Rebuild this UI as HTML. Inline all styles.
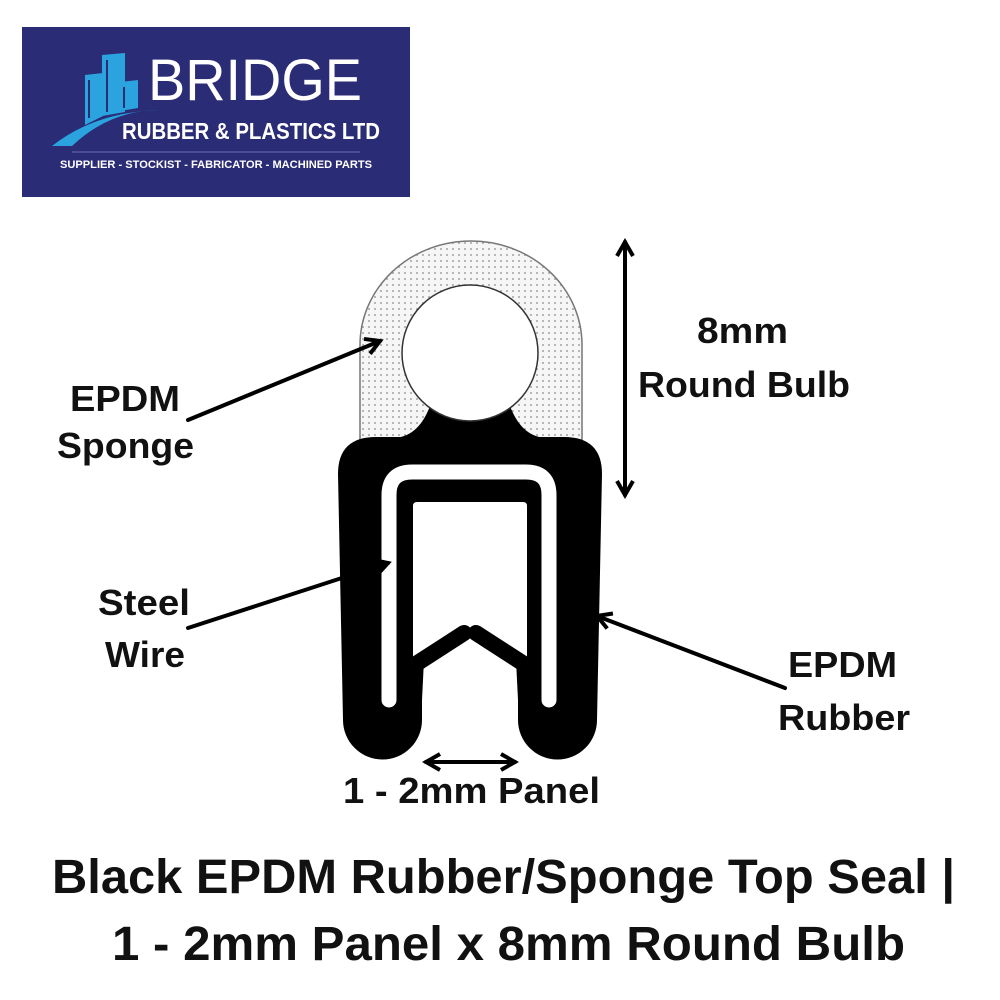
<!DOCTYPE html>
<html><head><meta charset="utf-8"><style>
html,body{margin:0;padding:0;background:#fff;width:1000px;height:1000px;overflow:hidden}
svg{display:block}
text{font-family:"Liberation Sans",sans-serif}
</style></head><body>
<svg width="1000" height="1000" viewBox="0 0 1000 1000" xmlns="http://www.w3.org/2000/svg">
<defs>
<pattern id="dots" width="6" height="6" patternUnits="userSpaceOnUse">
<rect width="6" height="6" fill="#f6f6f6"/>
<circle cx="3" cy="3" r="0.9" fill="#8a8a8a"/>
</pattern>
<marker id="ah" viewBox="0 0 10 10" refX="8" refY="5" markerWidth="5" markerHeight="5" orient="auto-start-reverse">
<path d="M1,1 L8,5 L1,9" fill="none" stroke="#000" stroke-width="2"/>
</marker>
</defs>

<!-- Logo -->
<rect x="22" y="27" width="388" height="170" fill="#2b2c76"/>
<path d="M52,146 Q95,112 160,110 Q110,110 72,146 Z" fill="#2aa3df"/>
<polygon points="85,75 103,73 103,116 85,125" fill="#2aa3df"/>
<polygon points="102,55 125,53 125,112 102,116" fill="#2aa3df"/>
<polygon points="120,82 138,80 138,108 120,111" fill="#2aa3df"/>
<path d="M89,80 V118 M107,60 V112 M124,87 V108" stroke="#2b2c76" stroke-width="2"/>
<text x="148" y="100" font-size="58" fill="#fff" textLength="214" lengthAdjust="spacingAndGlyphs">BRIDGE</text>
<text x="122" y="139" font-size="23" font-weight="bold" fill="#fff" textLength="258" lengthAdjust="spacingAndGlyphs">RUBBER &amp; PLASTICS LTD</text>
<line x1="72" y1="152" x2="360" y2="152" stroke="#6e70b4" stroke-width="1"/>
<text x="60" y="168" font-size="11" font-weight="bold" fill="#fff" textLength="312" lengthAdjust="spacingAndGlyphs">SUPPLIER - STOCKIST - FABRICATOR - MACHINED PARTS</text>

<!-- Sponge -->
<path d="M360,440 V345 A111 104 0 0 1 582,345 V440 Z" fill="url(#dots)" stroke="#777" stroke-width="1.5"/>
<!-- Black body -->
<path d="M338,474 Q338,437 376,437 L564,437 Q602,437 602,474 L597,720 A39.5 39.5 0 0 1 518,720 L518,700 L422,700 L422,720 A39.5 39.5 0 0 1 343,720 Z" fill="#000"/>
<path d="M392,438 Q418,438 430,406 L510,406 Q522,438 548,438 Z" fill="#000"/>
<circle cx="470" cy="353" r="68" fill="#fff" stroke="#333" stroke-width="1.5"/>
<!-- U channel -->
<path d="M389,700 V495 Q389,472 412,472 H526 Q549,472 549,495 V700" fill="none" stroke="#fff" stroke-width="15" stroke-linecap="round"/>
<!-- window -->
<path d="M413,506 Q413,502 417,502 H523 Q527,502 527,506 V660 L518,672 V760 H422 V672 L413,660 Z" fill="#fff"/>
<rect x="422" y="700" width="96" height="70" fill="#fff"/>
<line x1="416" y1="664" x2="464" y2="633" stroke="#000" stroke-width="16" stroke-linecap="round"/>
<line x1="476" y1="633" x2="524" y2="664" stroke="#000" stroke-width="16" stroke-linecap="round"/>
<polygon points="410,660 424,660 422,700 410,700" fill="#000"/>
<polygon points="516,660 530,660 530,700 518,700" fill="#000"/>

<!-- Arrows -->
<g stroke="#000" stroke-width="4" fill="none" stroke-linecap="round">
<line x1="188" y1="420" x2="380" y2="341" marker-end="url(#ah)"/>
<line x1="188" y1="628" x2="388" y2="563" marker-end="url(#ah)"/>
<line x1="785" y1="688" x2="597" y2="616" marker-end="url(#ah)"/>
<line x1="625" y1="242" x2="625" y2="495" marker-start="url(#ah)" marker-end="url(#ah)"/>
<line x1="426" y1="762" x2="515" y2="762" marker-start="url(#ah)" marker-end="url(#ah)"/>
</g>

<!-- Labels -->
<g font-weight="bold" font-size="36" fill="#111">
<text x="70" y="411" textLength="110" lengthAdjust="spacingAndGlyphs">EPDM</text>
<text x="57" y="458" textLength="137" lengthAdjust="spacingAndGlyphs">Sponge</text>
<text x="697" y="343" textLength="91" lengthAdjust="spacingAndGlyphs">8mm</text>
<text x="638" y="397" textLength="212" lengthAdjust="spacingAndGlyphs">Round Bulb</text>
<text x="98" y="615" textLength="92" lengthAdjust="spacingAndGlyphs">Steel</text>
<text x="105" y="667" textLength="80" lengthAdjust="spacingAndGlyphs">Wire</text>
<text x="788" y="677" textLength="109" lengthAdjust="spacingAndGlyphs">EPDM</text>
<text x="778" y="730" textLength="132" lengthAdjust="spacingAndGlyphs">Rubber</text>
<text x="343" y="803" textLength="257" lengthAdjust="spacingAndGlyphs">1 - 2mm Panel</text>
</g>
<g font-weight="bold" font-size="48" fill="#111">
<text x="52" y="893" textLength="903" lengthAdjust="spacingAndGlyphs">Black EPDM Rubber/Sponge Top Seal |</text>
<text x="112" y="960" textLength="793" lengthAdjust="spacingAndGlyphs">1 - 2mm Panel x 8mm Round Bulb</text>
</g>
</svg>
</body></html>
